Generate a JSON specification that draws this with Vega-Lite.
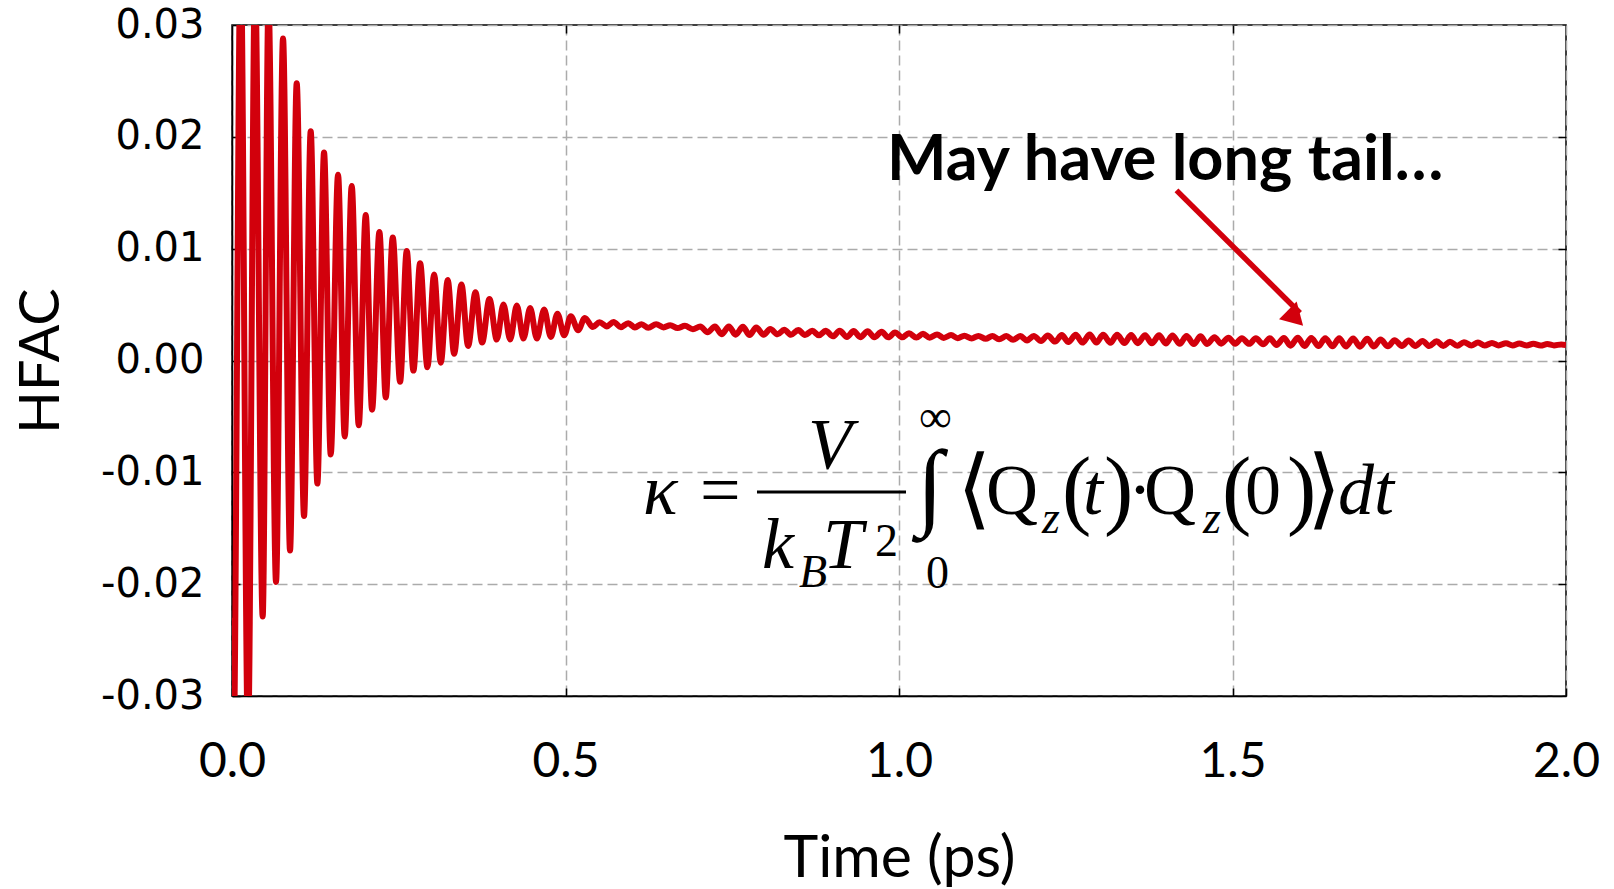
{
  "$schema": "https://vega.github.io/schema/vega-lite/v6.json",
  "width": 1334,
  "height": 671,
  "autosize": {"type": "none"},
  "padding": {"left": 232, "top": 25, "right": 48, "bottom": 193},
  "background": "white",
  "config": {"view": {"stroke": "#000", "strokeWidth": 1.5}},
  "datasets": {
    "hfac": [
      {"t": 0.000, "hfac": -0.023}, {"t": 0.002, "hfac": -0.036}, {"t": 0.013, "hfac": 0.036}, {"t": 0.024, "hfac": -0.034},
      {"t": 0.0345, "hfac": 0.034}, {"t": 0.046, "hfac": -0.0229}, {"t": 0.0547, "hfac": 0.032}, {"t": 0.066, "hfac": -0.0198},
      {"t": 0.0765, "hfac": 0.0288}, {"t": 0.087, "hfac": -0.0170}, {"t": 0.097, "hfac": 0.0248}, {"t": 0.108, "hfac": -0.0139},
      {"t": 0.118, "hfac": 0.0205}, {"t": 0.128, "hfac": -0.0110}, {"t": 0.138, "hfac": 0.0186}, {"t": 0.148, "hfac": -0.0084},
      {"t": 0.159, "hfac": 0.0166}, {"t": 0.169, "hfac": -0.0068}, {"t": 0.1795, "hfac": 0.0156}, {"t": 0.190, "hfac": -0.0058},
      {"t": 0.2005, "hfac": 0.0130}, {"t": 0.210, "hfac": -0.0044}, {"t": 0.221, "hfac": 0.0115}, {"t": 0.2305, "hfac": -0.0033},
      {"t": 0.241, "hfac": 0.0110}, {"t": 0.252, "hfac": -0.0019}, {"t": 0.262, "hfac": 0.0098}, {"t": 0.272, "hfac": -0.0009},
      {"t": 0.282, "hfac": 0.0087}, {"t": 0.293, "hfac": -0.0006}, {"t": 0.303, "hfac": 0.0077}, {"t": 0.313, "hfac": -0.0002},
      {"t": 0.3234, "hfac": 0.0072}, {"t": 0.333, "hfac": 0.0006}, {"t": 0.344, "hfac": 0.0068}, {"t": 0.354, "hfac": 0.0013},
      {"t": 0.365, "hfac": 0.0061}, {"t": 0.375, "hfac": 0.0016}, {"t": 0.386, "hfac": 0.0055}, {"t": 0.397, "hfac": 0.00187},
      {"t": 0.407, "hfac": 0.0050}, {"t": 0.417, "hfac": 0.00187}, {"t": 0.427, "hfac": 0.00491}, {"t": 0.437, "hfac": 0.00196},
      {"t": 0.447, "hfac": 0.00470}, {"t": 0.457, "hfac": 0.00196}, {"t": 0.468, "hfac": 0.00455}, {"t": 0.478, "hfac": 0.00211},
      {"t": 0.488, "hfac": 0.00419}, {"t": 0.498, "hfac": 0.00226}, {"t": 0.508, "hfac": 0.00396}, {"t": 0.519, "hfac": 0.00271},
      {"t": 0.529, "hfac": 0.00381}, {"t": 0.541, "hfac": 0.00300}, {"t": 0.551, "hfac": 0.00342}, {"t": 0.562, "hfac": 0.00305},
      {"t": 0.572, "hfac": 0.00345}, {"t": 0.583, "hfac": 0.00298}, {"t": 0.594, "hfac": 0.00334}, {"t": 0.604, "hfac": 0.00296},
      {"t": 0.614, "hfac": 0.00325}, {"t": 0.624, "hfac": 0.00292}, {"t": 0.636, "hfac": 0.00324}, {"t": 0.647, "hfac": 0.00296},
      {"t": 0.657, "hfac": 0.00316}, {"t": 0.668, "hfac": 0.00290}, {"t": 0.679, "hfac": 0.00310}, {"t": 0.691, "hfac": 0.00280},
      {"t": 0.702, "hfac": 0.00304}, {"t": 0.713, "hfac": 0.00252}, {"t": 0.724, "hfac": 0.00305},
      {"t": 0.734, "hfac": 0.00235}, {"t": 0.745, "hfac": 0.00305}, {"t": 0.755, "hfac": 0.00231}, {"t": 0.766, "hfac": 0.00301},
      {"t": 0.776, "hfac": 0.00227}, {"t": 0.786, "hfac": 0.00295}, {"t": 0.797, "hfac": 0.00230}, {"t": 0.807, "hfac": 0.00282},
      {"t": 0.818, "hfac": 0.00234}, {"t": 0.828, "hfac": 0.00276}, {"t": 0.838, "hfac": 0.00230}, {"t": 0.849, "hfac": 0.00272},
      {"t": 0.859, "hfac": 0.00228}, {"t": 0.870, "hfac": 0.00266}, {"t": 0.880, "hfac": 0.00225}, {"t": 0.890, "hfac": 0.00265},
      {"t": 0.901, "hfac": 0.00216}, {"t": 0.911, "hfac": 0.00266}, {"t": 0.922, "hfac": 0.00211}, {"t": 0.932, "hfac": 0.00264},
      {"t": 0.942, "hfac": 0.00209}, {"t": 0.953, "hfac": 0.00261}, {"t": 0.963, "hfac": 0.00207}, {"t": 0.974, "hfac": 0.00256},
      {"t": 0.984, "hfac": 0.00207}, {"t": 0.994, "hfac": 0.00251}, {"t": 1.005, "hfac": 0.00207}, {"t": 1.015, "hfac": 0.00244},
      {"t": 1.026, "hfac": 0.00205}, {"t": 1.036, "hfac": 0.00239}, {"t": 1.046, "hfac": 0.00204}, {"t": 1.057, "hfac": 0.00233},
      {"t": 1.067, "hfac": 0.00202}, {"t": 1.078, "hfac": 0.00227}, {"t": 1.088, "hfac": 0.00200}, {"t": 1.098, "hfac": 0.00222},
      {"t": 1.109, "hfac": 0.00197}, {"t": 1.119, "hfac": 0.00220}, {"t": 1.130, "hfac": 0.00194}, {"t": 1.140, "hfac": 0.00219},
      {"t": 1.150, "hfac": 0.00190}, {"t": 1.161, "hfac": 0.00218}, {"t": 1.171, "hfac": 0.00185}, {"t": 1.182, "hfac": 0.00218},
      {"t": 1.192, "hfac": 0.00179}, {"t": 1.202, "hfac": 0.00220}, {"t": 1.213, "hfac": 0.00174}, {"t": 1.223, "hfac": 0.00224},
      {"t": 1.234, "hfac": 0.00169}, {"t": 1.244, "hfac": 0.00227}, {"t": 1.254, "hfac": 0.00165}, {"t": 1.265, "hfac": 0.00231},
      {"t": 1.275, "hfac": 0.00160}, {"t": 1.286, "hfac": 0.00232}, {"t": 1.296, "hfac": 0.00160}, {"t": 1.306, "hfac": 0.00231},
      {"t": 1.317, "hfac": 0.00159}, {"t": 1.327, "hfac": 0.00230}, {"t": 1.338, "hfac": 0.00157}, {"t": 1.348, "hfac": 0.00228},
      {"t": 1.358, "hfac": 0.00155}, {"t": 1.369, "hfac": 0.00226}, {"t": 1.379, "hfac": 0.00154}, {"t": 1.390, "hfac": 0.00225},
      {"t": 1.400, "hfac": 0.00152}, {"t": 1.410, "hfac": 0.00223}, {"t": 1.421, "hfac": 0.00149}, {"t": 1.431, "hfac": 0.00220},
      {"t": 1.442, "hfac": 0.00147}, {"t": 1.452, "hfac": 0.00216}, {"t": 1.462, "hfac": 0.00148}, {"t": 1.473, "hfac": 0.00209},
      {"t": 1.483, "hfac": 0.00150}, {"t": 1.494, "hfac": 0.00204}, {"t": 1.504, "hfac": 0.00150}, {"t": 1.514, "hfac": 0.00200},
      {"t": 1.525, "hfac": 0.00149}, {"t": 1.535, "hfac": 0.00199}, {"t": 1.546, "hfac": 0.00145}, {"t": 1.556, "hfac": 0.00200},
      {"t": 1.566, "hfac": 0.00139}, {"t": 1.577, "hfac": 0.00202}, {"t": 1.587, "hfac": 0.00133}, {"t": 1.598, "hfac": 0.00203},
      {"t": 1.608, "hfac": 0.00130}, {"t": 1.618, "hfac": 0.00202}, {"t": 1.629, "hfac": 0.00129}, {"t": 1.639, "hfac": 0.00200},
      {"t": 1.650, "hfac": 0.00127}, {"t": 1.660, "hfac": 0.00198}, {"t": 1.670, "hfac": 0.00125}, {"t": 1.681, "hfac": 0.00197},
      {"t": 1.691, "hfac": 0.00124}, {"t": 1.702, "hfac": 0.00194}, {"t": 1.712, "hfac": 0.00125}, {"t": 1.722, "hfac": 0.00188},
      {"t": 1.733, "hfac": 0.00127}, {"t": 1.743, "hfac": 0.00182}, {"t": 1.754, "hfac": 0.00130}, {"t": 1.764, "hfac": 0.00178},
      {"t": 1.774, "hfac": 0.00130}, {"t": 1.785, "hfac": 0.00175}, {"t": 1.795, "hfac": 0.00129}, {"t": 1.806, "hfac": 0.00172},
      {"t": 1.816, "hfac": 0.00130}, {"t": 1.826, "hfac": 0.00168}, {"t": 1.837, "hfac": 0.00131}, {"t": 1.847, "hfac": 0.00164},
      {"t": 1.858, "hfac": 0.00134}, {"t": 1.868, "hfac": 0.00160}, {"t": 1.878, "hfac": 0.00134}, {"t": 1.889, "hfac": 0.00157},
      {"t": 1.899, "hfac": 0.00135}, {"t": 1.910, "hfac": 0.00154}, {"t": 1.920, "hfac": 0.00134}, {"t": 1.930, "hfac": 0.00152},
      {"t": 1.941, "hfac": 0.00134}, {"t": 1.951, "hfac": 0.00150}, {"t": 1.962, "hfac": 0.00134}, {"t": 1.972, "hfac": 0.00147},
      {"t": 1.982, "hfac": 0.00135}, {"t": 1.993, "hfac": 0.00144}, {"t": 2.000, "hfac": 0.00139}
    ],
    "arrow": [{"t": 1.416, "v": 0.01521, "t2": 1.6012, "v2": 0.00425}],
    "arrowhead": [{"t": 1.5944, "v": 0.0038}],
    "note": [{"t": 0.982, "v": 0.01614, "label": "May have long tail…"}],
    "fracbar": [{"t": 0.7871, "t2": 1.0105, "v": -0.01176}],
    "f_it": [
      {"t": 0.6162, "v": -0.01373, "label": "κ"},
      {"t": 0.8636, "v": -0.00961, "label": "V"},
      {"t": 0.7946, "v": -0.01856, "label": "k"},
      {"t": 0.8861, "v": -0.01856, "label": "T"},
      {"t": 1.2759, "v": -0.01373, "label": "t"},
      {"t": 1.6582, "v": -0.01373, "label": "dt"}
    ],
    "f_up": [
      {"t": 0.7016, "v": -0.01373, "label": "="},
      {"t": 1.1304, "v": -0.01373, "label": "Q"},
      {"t": 1.3433, "v": -0.01373, "label": "·"},
      {"t": 1.3673, "v": -0.01373, "label": "Q"},
      {"t": 1.5187, "v": -0.01373, "label": "0"}
    ],
    "f_sub": [
      {"t": 0.8501, "v": -0.02025, "label": "B"},
      {"t": 1.2144, "v": -0.01543, "label": "z"},
      {"t": 1.4558, "v": -0.01543, "label": "z"}
    ],
    "f_small": [
      {"t": 0.9640, "v": -0.01745, "label": "2"},
      {"t": 1.0300, "v": -0.00639, "label": "∞"},
      {"t": 1.0405, "v": -0.02034, "label": "0"}
    ],
    "f_big": [
      {"t": 1.0870, "v": -0.01408, "label": "⟨"},
      {"t": 1.2444, "v": -0.01408, "label": "("},
      {"t": 1.3073, "v": -0.01408, "label": ")"},
      {"t": 1.4843, "v": -0.01408, "label": "("},
      {"t": 1.5817, "v": -0.01408, "label": ")"},
      {"t": 1.6117, "v": -0.01408, "label": "⟩"}
    ],
    "f_int": [{"t": 1.0270, "v": -0.01399, "label": "∫"}]
  },
  "layer": [
    {
      "data": {"name": "hfac"},
      "mark": {"type": "line", "color": "#d2000c", "strokeWidth": 6, "interpolate": "monotone", "clip": true},
      "encoding": {
        "x": {
          "field": "t", "type": "quantitative",
          "scale": {"domain": [0, 2], "nice": false, "zero": false},
          "axis": {
            "values": [0, 0.5, 1, 1.5, 2], "format": ".1f",
            "labelFont": "Lato", "labelFontSize": 48, "labelColor": "#000", "labelPadding": 50,
            "labelFlush": false, "labelOverlap": false,
            "tickSize": -8, "tickColor": "#000", "tickWidth": 1.5,
            "domainColor": "#000", "domainWidth": 1.5,
            "grid": true, "gridColor": "#ababab", "gridDash": [10, 5], "gridWidth": 1.5,
            "title": "Time (ps)", "titleFont": "Lato", "titleFontSize": 59, "titleFontWeight": "normal",
            "titleColor": "#000", "titleX": 667, "titleY": 180, "titleBaseline": "alphabetic", "titleAlign": "center"
          }
        },
        "y": {
          "field": "hfac", "type": "quantitative",
          "scale": {"domain": [-0.03, 0.03], "nice": false, "zero": false},
          "axis": {
            "values": [-0.03, -0.02, -0.01, 0, 0.01, 0.02, 0.03],
            "labelExpr": "datum.value < -0.0001 ? '-' + format(-datum.value, '.2f') : format(abs(datum.value), '.2f')",
            "labelFont": "DejaVu Sans", "labelFontSize": 40, "labelColor": "#000", "labelPadding": 36,
            "labelFlush": false, "labelOverlap": false,
            "tickSize": -8, "tickColor": "#000", "tickWidth": 1.5,
            "domainColor": "#000", "domainWidth": 1.5,
            "grid": true, "gridColor": "#ababab", "gridDash": [10, 5], "gridWidth": 1.5,
            "title": "HFAC", "titleFont": "Lato", "titleFontSize": 56, "titleFontWeight": "normal",
            "titleColor": "#000", "titleX": -191, "titleY": 335.5, "titleAngle": 270,
            "titleBaseline": "middle", "titleAlign": "center"
          }
        }
      }
    },
    {
      "data": {"name": "arrow"},
      "mark": {"type": "rule", "color": "#d2000c", "strokeWidth": 5.5},
      "encoding": {
        "x": {"field": "t", "type": "quantitative",
          "axis": {"orient": "top", "labels": false, "title": null, "grid": false, "domain": false,
            "values": [0.5, 1, 1.5], "tickSize": -8, "tickColor": "#000", "tickWidth": 1.5}},
        "y": {"field": "v", "type": "quantitative",
          "axis": {"orient": "right", "labels": false, "title": null, "grid": false, "domain": false,
            "values": [-0.02, -0.01, 0, 0.01, 0.02], "tickSize": -8, "tickColor": "#000", "tickWidth": 1.5}},
        "x2": {"field": "t2"},
        "y2": {"field": "v2"}
      }
    },
    {
      "data": {"name": "arrowhead"},
      "mark": {"type": "point", "shape": "triangle-up", "size": 620, "angle": 135, "filled": true, "color": "#d2000c", "opacity": 1},
      "encoding": {
        "x": {"field": "t", "type": "quantitative", "axis": null},
        "y": {"field": "v", "type": "quantitative", "axis": null}
      }
    },
    {
      "data": {"name": "note"},
      "mark": {"type": "text", "font": "Lato", "fontSize": 63, "fontWeight": "bold", "align": "left", "baseline": "alphabetic", "color": "#000"},
      "encoding": {
        "x": {"field": "t", "type": "quantitative", "axis": null},
        "y": {"field": "v", "type": "quantitative", "axis": null},
        "text": {"field": "label"}
      }
    },
    {
      "data": {"name": "fracbar"},
      "mark": {"type": "rule", "color": "#000", "strokeWidth": 3},
      "encoding": {
        "x": {"field": "t", "type": "quantitative", "axis": null},
        "x2": {"field": "t2"},
        "y": {"field": "v", "type": "quantitative", "axis": null}
      }
    },
    {
      "data": {"name": "f_it"},
      "mark": {"type": "text", "font": "Liberation Serif", "fontSize": 72, "fontStyle": "italic", "align": "left", "baseline": "alphabetic", "color": "#000"},
      "encoding": {
        "x": {"field": "t", "type": "quantitative", "axis": null},
        "y": {"field": "v", "type": "quantitative", "axis": null},
        "text": {"field": "label"}
      }
    },
    {
      "data": {"name": "f_up"},
      "mark": {"type": "text", "font": "Liberation Serif", "fontSize": 72, "align": "left", "baseline": "alphabetic", "color": "#000"},
      "encoding": {
        "x": {"field": "t", "type": "quantitative", "axis": null},
        "y": {"field": "v", "type": "quantitative", "axis": null},
        "text": {"field": "label"}
      }
    },
    {
      "data": {"name": "f_sub"},
      "mark": {"type": "text", "font": "Liberation Serif", "fontSize": 46, "fontStyle": "italic", "align": "left", "baseline": "alphabetic", "color": "#000"},
      "encoding": {
        "x": {"field": "t", "type": "quantitative", "axis": null},
        "y": {"field": "v", "type": "quantitative", "axis": null},
        "text": {"field": "label"}
      }
    },
    {
      "data": {"name": "f_small"},
      "mark": {"type": "text", "font": "Liberation Serif", "fontSize": 46, "align": "left", "baseline": "alphabetic", "color": "#000"},
      "encoding": {
        "x": {"field": "t", "type": "quantitative", "axis": null},
        "y": {"field": "v", "type": "quantitative", "axis": null},
        "text": {"field": "label"}
      }
    },
    {
      "data": {"name": "f_big"},
      "mark": {"type": "text", "font": "Liberation Serif", "fontSize": 88, "align": "left", "baseline": "alphabetic", "color": "#000"},
      "encoding": {
        "x": {"field": "t", "type": "quantitative", "axis": null},
        "y": {"field": "v", "type": "quantitative", "axis": null},
        "text": {"field": "label"}
      }
    },
    {
      "data": {"name": "f_int"},
      "mark": {"type": "text", "font": "Liberation Serif", "fontSize": 96, "align": "left", "baseline": "alphabetic", "color": "#000"},
      "encoding": {
        "x": {"field": "t", "type": "quantitative", "axis": null},
        "y": {"field": "v", "type": "quantitative", "axis": null},
        "text": {"field": "label"}
      }
    }
  ],
  "resolve": {"axis": {"x": "independent", "y": "independent"}}
}
